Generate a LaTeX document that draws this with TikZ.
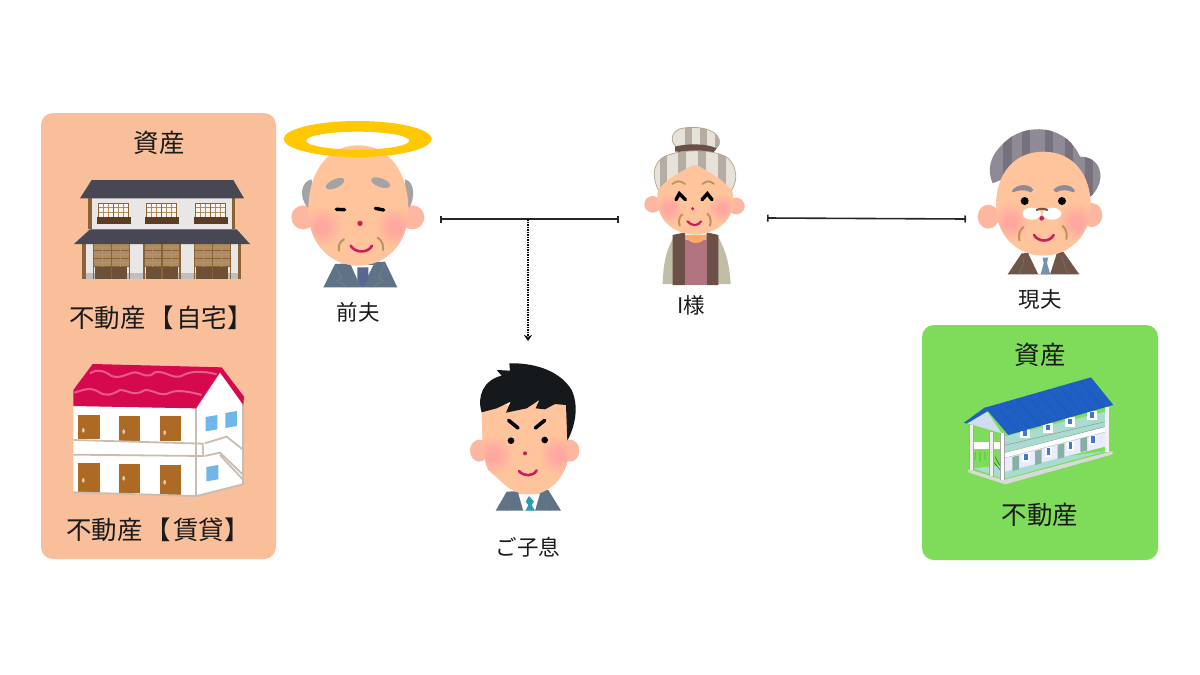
\documentclass[tikz,border=0pt]{standalone}
\usepackage{fontspec}
\setmainfont{Noto Sans CJK JP}
\usetikzlibrary{arrows.meta,calc}
\definecolor{panelorange}{HTML}{F8BF9A}
\definecolor{panelgreen}{HTML}{7FDB5A}
\definecolor{skin}{HTML}{FFC49B}
\definecolor{earskin}{HTML}{FDB6A0}
\definecolor{blushc}{HTML}{FFA8A0}
\definecolor{mouthred}{HTML}{C8205A}
\definecolor{wrinkle}{HTML}{B8955F}
\definecolor{halo}{HTML}{FFC800}
\definecolor{inktext}{HTML}{1A1A1A}
\definecolor{woodbrown}{HTML}{8A6236}
\definecolor{wooddark}{HTML}{5C3D22}
\definecolor{woodlight}{HTML}{AE8C60}
\definecolor{rooftile}{HTML}{484854}
\definecolor{plaster}{HTML}{E9E7E5}
\definecolor{crimsonroof}{HTML}{D6094F}
\definecolor{roofwave}{HTML}{E85A8E}
\definecolor{doorbrown}{HTML}{AD6A24}
\definecolor{tanline}{HTML}{C8BDB0}
\definecolor{skyblue}{HTML}{6FB7E9}
\definecolor{blueroof}{HTML}{1F5FC4}
\definecolor{bluerib}{HTML}{1A52AC}
\definecolor{tealwall}{HTML}{A9DCCF}
\definecolor{gablec}{HTML}{CFDDEE}
\definecolor{hairgrey}{HTML}{A3A3A3}
\definecolor{hairpurple}{HTML}{8F8A95}
\definecolor{hairpurpled}{HTML}{76717D}
\definecolor{scarflight}{HTML}{E6E2DA}
\definecolor{scarfdark}{HTML}{B5ACA4}
\definecolor{vest}{HTML}{6B5048}
\definecolor{cardigan}{HTML}{C2BDA5}
\definecolor{blouse}{HTML}{B0737F}
\definecolor{collarc}{HTML}{FFA868}
\definecolor{brownsuit}{HTML}{6F5648}
\definecolor{greysuit}{HTML}{5F7388}
\definecolor{tealtie}{HTML}{2A9DB5}
\definecolor{navytie}{HTML}{5A6590}
\definecolor{bluetie}{HTML}{7593B0}
\definecolor{sonhair}{HTML}{15191C}
\pgfdeclareradialshading{softblush}{\pgfpoint{0bp}{0bp}}{color(0bp)=(blushc); color(7bp)=(blushc); color(25bp)=(skin); color(100bp)=(skin)}
\tikzset{
  zm/.style={shift={(#1)},scale=0.33333},
  panel/.style={rounded corners=12pt,draw=none},
  bigtext/.style={font=\fontsize{25.5}{28}\selectfont,text=inktext,inner sep=0pt},
  nametext/.style={font=\fontsize{21.5}{24}\selectfont,text=inktext,inner sep=0pt},
  linkline/.style={draw=black!85,line width=1.6pt,{Bar[width=7pt,length=1pt]}-{Bar[width=7pt,length=1pt]}},
  childline/.style={draw=black,line width=1.5pt,densely dotted,-{Stealth[length=6pt,width=8pt,inset=2pt]}},
  eyeline/.style={line width=3.4pt,line cap=round,draw=black},
  mouthline/.style={line width=2.6pt,line cap=round,draw=mouthred},
  wrinkleline/.style={line width=2pt,line cap=round,draw=wrinkle},
  tanstroke/.style={draw=tanline,line width=1.8pt},
}
\newcommand{\blushspot}[3]{\shade[shading=softblush] (#1,#2) circle[radius=#3];}
\def\headA{(955,106) .. controls (1050,106) and (1105,190) .. (1105,300) .. controls (1105,400) and (1040,467) .. (955,467) .. controls (870,467) and (805,400) .. (805,300) .. controls (805,190) and (860,106) .. (955,106) -- cycle}
\def\headB{(225,150) .. controls (300,150) and (340,200) .. (340,255) .. controls (340,315) and (290,358) .. (225,358) .. controls (160,358) and (112,315) .. (112,250) .. controls (112,200) and (150,150) .. (225,150) -- cycle}
\def\headC{(1270,110) .. controls (1360,110) and (1412,180) .. (1412,270) .. controls (1412,360) and (1350,422) .. (1270,422) .. controls (1190,422) and (1128,360) .. (1128,270) .. controls (1128,180) and (1180,110) .. (1270,110) -- cycle}
\def\headD{(155,620) -- (410,600) -- (416,770) .. controls (405,820) and (385,850) .. (350,870) .. controls (320,890) and (265,890) .. (225,855) -- (175,810) .. controls (160,780) and (155,720) .. (155,620) -- cycle}
\begin{document}
\begin{tikzpicture}[x=1pt,y=-1pt]
\useasboundingbox (0,0) rectangle (1200,675);
\fill[white] (0,0) rectangle (1200,675);

% panels
\fill[panel,panelorange] (41,113) rectangle (276,559);
\fill[panel,panelgreen] (922,325) rectangle (1158,560);

% Japanese house
\begin{scope}[zm={40,110}]
  \fill[plaster] (135,402) rectangle (600,507);
  \fill[black!25] (135,490) rectangle (600,507);
  \fill[woodbrown] (127,400) rectangle (137,507);
  \fill[woodbrown] (595,400) rectangle (604,507);
  \foreach \dx in {160,312,463}{
    \fill[woodlight] (\dx,402) rectangle (\dx+108,472);
    \fill[wooddark!90] (\dx+6,472) rectangle (\dx+102,507);
    \draw[woodbrown,line width=.8pt] (\dx,420) -- +(108,0) (\dx,445) -- +(108,0) (\dx,470) -- +(108,0);
    \draw[woodbrown!70,line width=.4pt] (\dx,411) -- +(108,0) (\dx,432) -- +(108,0) (\dx,458) -- +(108,0) (\dx+26,402) -- +(0,68) (\dx+82,402) -- +(0,68);
    \draw[woodbrown,line width=1.2pt] (\dx+54,402) -- +(0,105) (\dx,402) -- +(0,105) (\dx+108,402) -- +(0,105);
  }
  \fill[plaster] (150,265) rectangle (582,358);
  \fill[woodbrown] (145,265) rectangle (156,358);
  \fill[woodbrown] (576,265) rectangle (586,358);
  \foreach \wx in {175,320,466}{
    \fill[white!92!brown] (\wx,280) rectangle (\wx+90,322);
    \draw[woodlight,line width=.35pt] (\wx,293) -- +(90,0) (\wx,306) -- +(90,0) (\wx+15,280) -- +(0,42) (\wx+30,280) -- +(0,42) (\wx+60,280) -- +(0,42) (\wx+75,280) -- +(0,42);
    \draw[woodbrown,line width=.9pt] (\wx,322) -- (\wx,280) -- (\wx+90,280) -- (\wx+90,322) (\wx+45,280) -- +(0,42);
    \fill[wooddark] (\wx-5,320) rectangle (\wx+97,342);
  }
  \fill[rooftile] (155,210) -- (580,210) -- (612,265) -- (120,265) -- cycle;
  \fill[rooftile] (150,358) -- (590,358) -- (630,402) -- (102,402) -- cycle;
\end{scope}

% Red-roofed apartment
\begin{scope}[zm={40,340}]
  \fill[white] (100,198) -- (470,205) -- (540,100) -- (610,190) -- (612,432) -- (470,468) -- (100,456) -- cycle;
  \foreach \ax/\ay/\bx/\by in {115/224/180/298,236/227/300/302,359/229/423/304,115/370/180/457,236/372/300/460,359/376/423/465}{
    \fill[doorbrown] (\ax,\ay) rectangle (\bx,\by);
  }
  \foreach \kx/\ky in {130/271,251/275,374/278,130/421,251/415,374/427}{
    \fill[white!65!doorbrown] (\kx,\ky) ellipse[x radius=4,y radius=7];
  }
  \draw[tanstroke] (100,300) -- (488,311) -- (490,348) -- (100,344);
  \draw[tanstroke] (468,205) -- (468,468);
  \draw[tanstroke] (100,457) -- (470,468) -- (612,432);
  \draw[tanstroke] (494,310) -- (560,290) -- (610,330);
  \draw[tanstroke] (494,348) -- (540,338) -- (610,405);
  \draw[tanstroke] (540,345) -- (610,420);
  \draw[tanstroke] (610,190) -- (610,432);
  \fill[skyblue] (497,231) -- (532,225) -- (532,268) -- (497,274) -- cycle;
  \fill[skyblue] (556,219) -- (591,213) -- (591,258) -- (556,264) -- cycle;
  \fill[skyblue] (499,381) -- (535,375) -- (535,418) -- (499,424) -- cycle;
  \fill[crimsonroof] (158,72) -- (545,82) -- (612,170) -- (610,195) -- (540,97) -- (468,205) -- (100,198) -- (100,150) -- cycle;
  \draw[roofwave,line width=2pt] (150,100) .. controls (175,85) and (190,92) .. (215,108) .. controls (240,118) and (260,100) .. (285,97) .. controls (310,100) and (320,118) .. (345,97) .. controls (375,90) and (395,118) .. (425,108) .. controls (445,95) and (480,90) .. (530,103);
  \draw[roofwave,line width=2pt] (103,158) .. controls (130,150) and (150,140) .. (175,155) .. controls (195,170) and (215,165) .. (240,150) .. controls (265,150) and (280,172) .. (315,150) .. controls (345,150) and (360,172) .. (390,158) .. controls (410,148) and (450,155) .. (485,165);
\end{scope}

% Blue-roofed building
\begin{scope}[zm={920,325}]
  \fill[black!15] (145,432) -- (250,465) -- (578,378) -- (578,388) -- (255,478) -- (145,442) -- cycle;
  \fill[tealwall] (160,430) -- (250,462) -- (560,378) -- (250,420) -- cycle;
  \fill[white!92!blue] (255,392) -- (555,318) -- (555,365) -- (255,440) -- cycle;
  \foreach \dx/\dy in {277/396,345/378,413/360,481/340}{
    \fill[tealwall!80!black] (\dx,\dy) -- (\dx+20,\dy-5) -- (\dx+20,\dy+37) -- (\dx,\dy+42) -- cycle;
  }
  \foreach \wx/\wy in {313/386,380/370,446/352,513/334}{
    \fill[white] (\wx-6,\wy-4) rectangle (\wx+16,\wy+26);
    \fill[blueroof!85] (\wx,\wy) rectangle (\wx+11,\wy+20);
  }
  \fill[tealwall] (250,335) -- (555,260) -- (555,305) -- (250,385) -- cycle;
  \foreach \wx/\wy in {300/312,368/295,435/277,502/258}{
    \fill[white] (\wx,\wy) rectangle (\wx+30,\wy+28);
    \fill[blueroof!85] (\wx+9,\wy+4) rectangle (\wx+21,\wy+20);
  }
  \draw[black!45,line width=.4pt] (250,362) -- (555,290) (250,385) -- (555,305);
  \fill[white] (250,385) -- (560,305) -- (560,320) -- (250,400) -- cycle;
  \draw[black!35,line width=.3pt] (250,400) -- (560,320);
  \fill[white] (150,350) rectangle (240,372);
  \draw[green!40!black,line width=.4pt] (165,380) -- (165,405) (180,380) -- (180,410) (195,380) -- (195,405) (225,395) -- (250,440) (220,410) -- (245,440);
  \fill[black!6] (147,300) rectangle (158,435);
  \fill[black!6] (207,320) rectangle (219,452);
  \fill[white] (240,325) rectangle (251,465);
  \fill[black!5] (555,245) rectangle (568,380);
  \draw[black!35,line width=.3pt] (147,300) -- (147,435) (158,300) -- (158,435) (207,320) -- (207,452) (219,320) -- (219,452) (240,325) -- (240,465) (251,325) -- (251,465);
  \fill[gablec] (135,293) -- (195,250) -- (245,325) -- cycle;
  \fill[blueroof] (195,248) -- (513,157) -- (580,240) -- (265,330) -- cycle;
  \foreach \rib in {0.1,0.2,...,0.95}{
    \draw[bluerib,line width=.3pt] ($(195,248)!\rib!(513,157)$) -- ($(265,330)!\rib!(580,240)$);
  }
  \fill[blueroof] (132,293) -- (195,247) -- (204,258) -- (140,296) -- cycle;
\end{scope}

% Former husband
\begin{scope}[zm={40,110}]
  \fill[greysuit] (850,532) -- (885,462) -- (1035,455) -- (1072,532) -- cycle;
  \fill[white] (933,465) -- (1000,465) -- (975,515) -- (955,515) -- cycle;
  \fill[navytie] (952,472) -- (985,472) -- (985,510) -- (968,532) -- (952,510) -- cycle;
  \draw[black!50,line width=.5pt] (885,465) -- (905,505) -- (890,512) -- (925,532) (1035,458) -- (1015,505) -- (1030,512) -- (995,532);
  \fill[earskin] (790,322) circle[radius=36];
  \fill[earskin] (1117,322) circle[radius=36];
  \fill[hairgrey] (815,208) .. controls (780,215) and (778,265) .. (803,293) -- (820,280) -- cycle;
  \fill[hairgrey] (1095,208) .. controls (1125,215) and (1125,265) .. (1108,293) -- (1090,280) -- cycle;
  \fill[skin] \headA;
  \begin{scope}
    \clip \headA;
    \blushspot{845}{350}{62}
    \blushspot{1065}{350}{62}
  \end{scope}
  \fill[hairgrey,rotate around={25:(885,221)}] (885,221) ellipse[x radius=30,y radius=13];
  \fill[hairgrey,rotate around={-20:(1022,218)}] (1022,218) ellipse[x radius=30,y radius=13];
  \draw[eyeline] (889,298) -- (914,299);
  \draw[eyeline] (1006,295) -- (1031,300);
  \fill[mouthred] (960,340) circle[radius=8];
  \draw[mouthline] (932,407) .. controls (945,430) and (985,430) .. (996,407);
  \draw[wrinkleline] (912,388) .. controls (897,395) and (895,410) .. (897,422);
  \draw[wrinkleline] (1013,383) .. controls (1028,392) and (1030,408) .. (1029,420);
  \fill[halo,even odd rule] (953,87) ellipse[x radius=222,y radius=54] (953,92) ellipse[x radius=155,y radius=27];
\end{scope}

% I-sama
\begin{scope}[zm={620,115}]
  \fill[cardigan] (128,507) .. controls (130,440) and (140,400) .. (165,360) -- (290,358) .. controls (315,400) and (328,440) .. (332,507) -- cycle;
  \fill[vest] (158,360) -- (195,352) -- (195,510) -- (158,510) -- cycle;
  \fill[vest] (260,352) -- (295,360) -- (295,510) -- (260,510) -- cycle;
  \fill[blouse] (195,375) rectangle (260,510);
  \fill[collarc] (195,360) .. controls (205,392) and (250,392) .. (260,360) -- cycle;
  \fill[earskin] (98,268) circle[radius=25];
  \fill[earskin] (349,273) circle[radius=25];
  \fill[skin] \headB;
  \begin{scope}
    \clip \headB;
    \blushspot{145}{280}{45}
    \blushspot{305}{280}{45}
  \end{scope}
  % bun
  \begin{scope}
    \clip (175,100) .. controls (150,85) and (150,55) .. (178,42) .. controls (225,30) and (290,40) .. (298,75) .. controls (302,95) and (285,105) .. (270,105) -- cycle;
    \fill[scarflight] (140,25) rectangle (310,110);
    \foreach \sx in {195,240,285} \fill[scarfdark] (\sx,25) rectangle (\sx+22,110);
  \end{scope}
  \draw[scarfdark!70!brown,line width=.7pt] (175,100) .. controls (150,85) and (150,55) .. (178,42) .. controls (225,30) and (290,40) .. (298,75) .. controls (302,95) and (285,105) .. (270,105);
  \fill[vest] (165,95) .. controls (200,85) and (260,85) .. (290,100) -- (280,113) -- (165,110) -- cycle;
  % scarf
  \begin{scope}
    \clip (115,225) .. controls (95,185) and (100,150) .. (125,130) .. controls (170,100) and (285,100) .. (325,130) .. controls (350,155) and (355,195) .. (335,225) .. controls (310,195) and (270,170) .. (225,148) .. controls (190,165) and (140,190) .. (115,225) -- cycle;
    \fill[scarflight] (90,90) rectangle (360,235);
    \foreach \sx in {120,175,235,295} \fill[scarfdark] (\sx,90) rectangle (\sx+22,235);
  \end{scope}
  \draw[scarfdark!70!brown,line width=.7pt] (115,225) .. controls (95,185) and (100,150) .. (125,130) .. controls (170,100) and (285,100) .. (325,130) .. controls (350,155) and (355,195) .. (335,225);
  \draw[wrinkle,line width=1.8pt,line cap=round] (157,207) .. controls (170,195) and (185,198) .. (195,207);
  \draw[wrinkle,line width=1.8pt,line cap=round] (248,207) .. controls (260,195) and (272,198) .. (282,207);
  \draw[eyeline] (168,254) -- (178,236) -- (196,254);
  \draw[eyeline] (246,254) -- (262,236) -- (276,254);
  \fill[mouthred] (218,281) circle[radius=5];
  \draw[mouthline,line width=2.2pt] (202,319) .. controls (215,334) and (235,334) .. (243,319);
  \draw[wrinkleline] (187,298) .. controls (177,305) and (175,320) .. (179,332);
  \draw[wrinkleline] (262,296) .. controls (272,305) and (274,318) .. (270,332);
\end{scope}

% Current husband
\begin{scope}[zm={620,115}]
  \fill[brownsuit] (1163,478) -- (1205,415) -- (1330,410) -- (1378,478) -- cycle;
  \fill[white] (1225,415) -- (1310,415) -- (1290,478) -- (1255,478) -- cycle;
  \fill[bluetie] (1268,428) -- (1284,428) -- (1281,445) -- (1291,478) -- (1262,478) -- (1271,445) -- cycle;
  \draw[black!55,line width=.6pt] (1212,425) -- (1208,455) -- (1195,478) (1325,425) -- (1335,455) -- (1345,478);
  \fill[earskin] (1105,305) ellipse[x radius=32,y radius=36];
  \fill[earskin] (1415,300) ellipse[x radius=32,y radius=36];
  \begin{scope}
    \clip (1118,205) .. controls (1095,150) and (1120,105) .. (1175,65) .. controls (1240,25) and (1340,35) .. (1380,125) .. controls (1430,125) and (1450,165) .. (1438,205) .. controls (1430,225) and (1420,240) .. (1410,245) -- (1400,200) -- (1250,150) -- cycle;
    \fill[hairpurple] (1090,30) rectangle (1450,250);
    \foreach \sx in {1150,1205,1275,1335,1395} \fill[hairpurpled] (\sx,30) rectangle (\sx+25,250);
  \end{scope}
  \fill[skin] \headC;
  \begin{scope}
    \clip \headC;
    \blushspot{1170}{320}{60}
    \blushspot{1370}{320}{60}
  \end{scope}
  \fill[hairpurple] (1175,228) .. controls (1190,205) and (1230,205) .. (1240,225) -- (1232,232) .. controls (1215,222) and (1195,225) .. (1180,232) -- cycle;
  \fill[hairpurple] (1300,225) .. controls (1315,205) and (1355,205) .. (1365,228) -- (1360,232) .. controls (1345,225) and (1325,222) .. (1308,232) -- cycle;
  \fill[black] (1214,258) circle[radius=12];
  \fill[black] (1326,258) circle[radius=12];
  \fill[white] (1235,296) ellipse[x radius=28,y radius=18];
  \fill[white] (1296,296) ellipse[x radius=28,y radius=18];
  \draw[brownsuit,line width=2pt,line cap=round] (1250,285) .. controls (1260,280) and (1272,280) .. (1282,285);
  \fill[mouthred] (1265,310) circle[radius=7];
  \draw[mouthline] (1242,360) .. controls (1255,382) and (1290,382) .. (1301,360);
  \draw[wrinkleline] (1210,336) .. controls (1198,345) and (1195,362) .. (1198,376);
  \draw[wrinkleline] (1328,333) .. controls (1340,343) and (1342,358) .. (1339,372);
\end{scope}

% Son
\begin{scope}[zm={430,200}]
  \fill[greysuit] (197,932) -- (230,875) -- (355,870) -- (393,932) -- cycle;
  \fill[white] (265,880) -- (330,880) -- (315,932) -- (280,932) -- cycle;
  \fill[tealtie] (297,888) -- (312,905) -- (305,915) -- (315,932) -- (287,932) -- (295,915) -- (287,905) -- cycle;
  \draw[black!55,line width=.6pt] (232,885) -- (222,905) -- (240,915) -- (230,932) (350,885) -- (362,905) -- (345,915) -- (358,932);
  \fill[earskin] (148,752) ellipse[x radius=28,y radius=33];
  \fill[earskin] (420,752) ellipse[x radius=28,y radius=33];
  \fill[skin] \headD;
  \begin{scope}
    \clip \headD;
    \blushspot{190}{765}{60}
    \blushspot{385}{765}{60}
  \end{scope}
  \fill[sonhair] (155,637) .. controls (140,590) and (160,540) .. (215,527) -- (200,510) -- (240,512) -- (238,490) .. controls (300,488) and (385,505) .. (425,570) .. controls (448,620) and (435,680) .. (412,722) -- (408,615) -- (375,612) -- (345,628) -- (317,625) -- (328,600) -- (290,625) -- (228,638) -- (242,605) -- (200,625) -- cycle;
  \draw[eyeline,line width=3.6pt] (236,661) -- (264,684);
  \draw[eyeline,line width=3.6pt] (316,684) -- (344,661);
  \fill[black] (243,722) circle[radius=10];
  \fill[black] (344,720) circle[radius=10];
  \fill[mouthred] (285,760) circle[radius=6];
  \draw[mouthline] (267,813) .. controls (280,830) and (310,830) .. (320,811);
\end{scope}

% text
\node[bigtext] (assetA) at (159,143) {資産};
\node[bigtext] (homeText) at (161,318) {不動産\hspace{3pt}【\hspace{2pt}自宅】};
\node[bigtext] (rentText) at (158,530) {不動産\hspace{3pt}【\hspace{2pt}賃貸】};
\node[nametext] (exName) at (358,312) {前夫};
\node[nametext] (iName) at (691,305) {I様};
\node[nametext] (curName) at (1040,299) {現夫};
\node[nametext] (sonName) at (528,547) {ご子息};
\node[bigtext] (assetB) at (1040,355) {資産};
\node[bigtext] (realText) at (1040,515) {不動産};

% connectors
\coordinate (marL) at (440,219);
\coordinate (marR) at (619,219);
\coordinate (marM) at (528,219);
\coordinate (sonTop) at (528,341);
\coordinate (curL) at (767,218);
\coordinate (curR) at (966,219);
\draw[linkline] (marL) -- (marR);
\draw[linkline] (curL) -- (curR);
\draw[childline] (marM) -- (sonTop);
\end{tikzpicture}
\end{document}
